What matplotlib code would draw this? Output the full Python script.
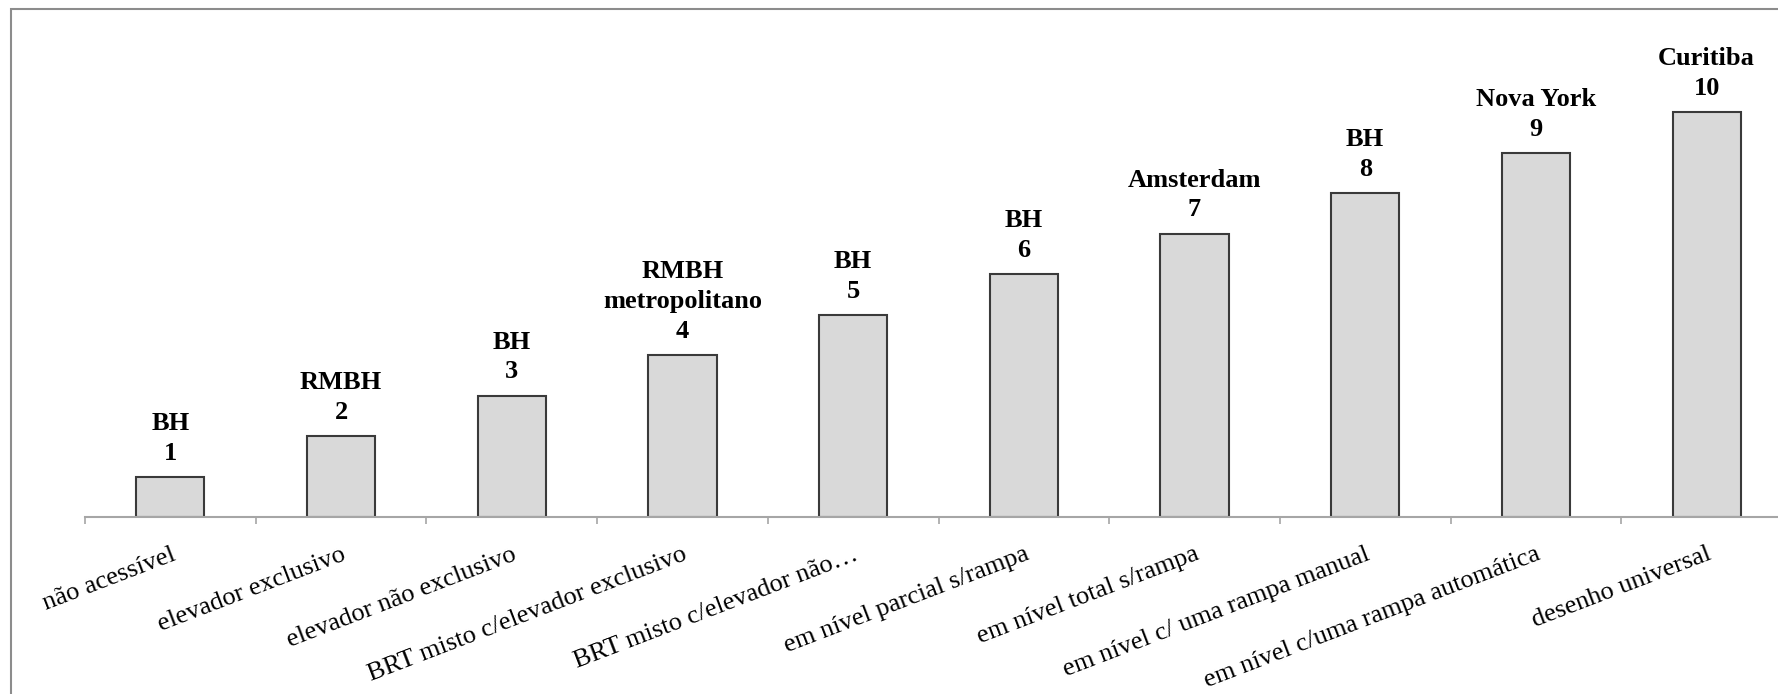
import matplotlib.pyplot as plt
from matplotlib.patches import Rectangle
import numpy as np

# Acessibilidade em sistemas de ônibus (escala 1 a 10)
CATEGORIES = ['não acessível', 'elevador exclusivo', 'elevador não exclusivo',
              'BRT misto c/elevador exclusivo', 'BRT misto c/elevador não…',
              'em nível parcial s/rampa', 'em nível total s/rampa',
              'em nível c/ uma rampa manual', 'em nível c/uma rampa automática',
              'desenho universal']
VALUES = [1, 2, 3, 4, 5, 6, 7, 8, 9, 10]
PLACES = ['BH', 'RMBH', 'BH', 'RMBH\nmetropolitano', 'BH', 'BH', 'Amsterdam',
          'BH', 'Nova York', 'Curitiba']

plt.rcParams['font.family'] = ['Liberation Serif', 'DejaVu Serif']

W, H = 1778, 694
fig = plt.figure(figsize=(W / 100, H / 100), dpi=100)

# axes: baseline at y=517 px, one category = 170.7 px, starts at x=85 px
ax = fig.add_axes([85 / W, (H - 517) / H, 1707 / W, 12.5 * 40.5 / H])

x = np.arange(len(VALUES))
ax.bar(x, VALUES, width=0.4, color='#D9D9D9', edgecolor='#3A3A3A', linewidth=1.5, zorder=2)
ax.set_xlim(-0.5, len(VALUES) - 0.5)
ax.set_ylim(0, 12.5)

for xi, v, p in zip(x, VALUES, PLACES):
    ax.annotate(f'{p}\n{v}', (xi, v), xytext=(0, 12), textcoords='offset pixels',
                ha='center', va='bottom', fontsize=19, fontweight='bold',
                linespacing=1.38)

ax.set_xticks(x, CATEGORIES, rotation=21, ha='right', rotation_mode='anchor', fontsize=19)
ax.set_xticks(np.arange(len(VALUES) + 1) - 0.5, minor=True)
ax.tick_params(axis='x', which='major', length=0, pad=19)
ax.tick_params(axis='x', which='minor', length=5, width=1.2, color='#A6A6A6', direction='out')
ax.set_yticks([])

for s in ['top', 'right', 'left']:
    ax.spines[s].set_visible(False)
ax.spines['bottom'].set_color('#A6A6A6')
ax.spines['bottom'].set_linewidth(1.5)
ax.spines['bottom'].set_zorder(3)

# outer chart frame (cut off at the right and bottom)
fig.patches.append(Rectangle((11 / W, -0.05), 1.1, 1 - 9 / H + 0.05, transform=fig.transFigure,
                             fill=False, edgecolor='#8C8C8C', linewidth=1.5))

fig.savefig('out.png', dpi=100)
